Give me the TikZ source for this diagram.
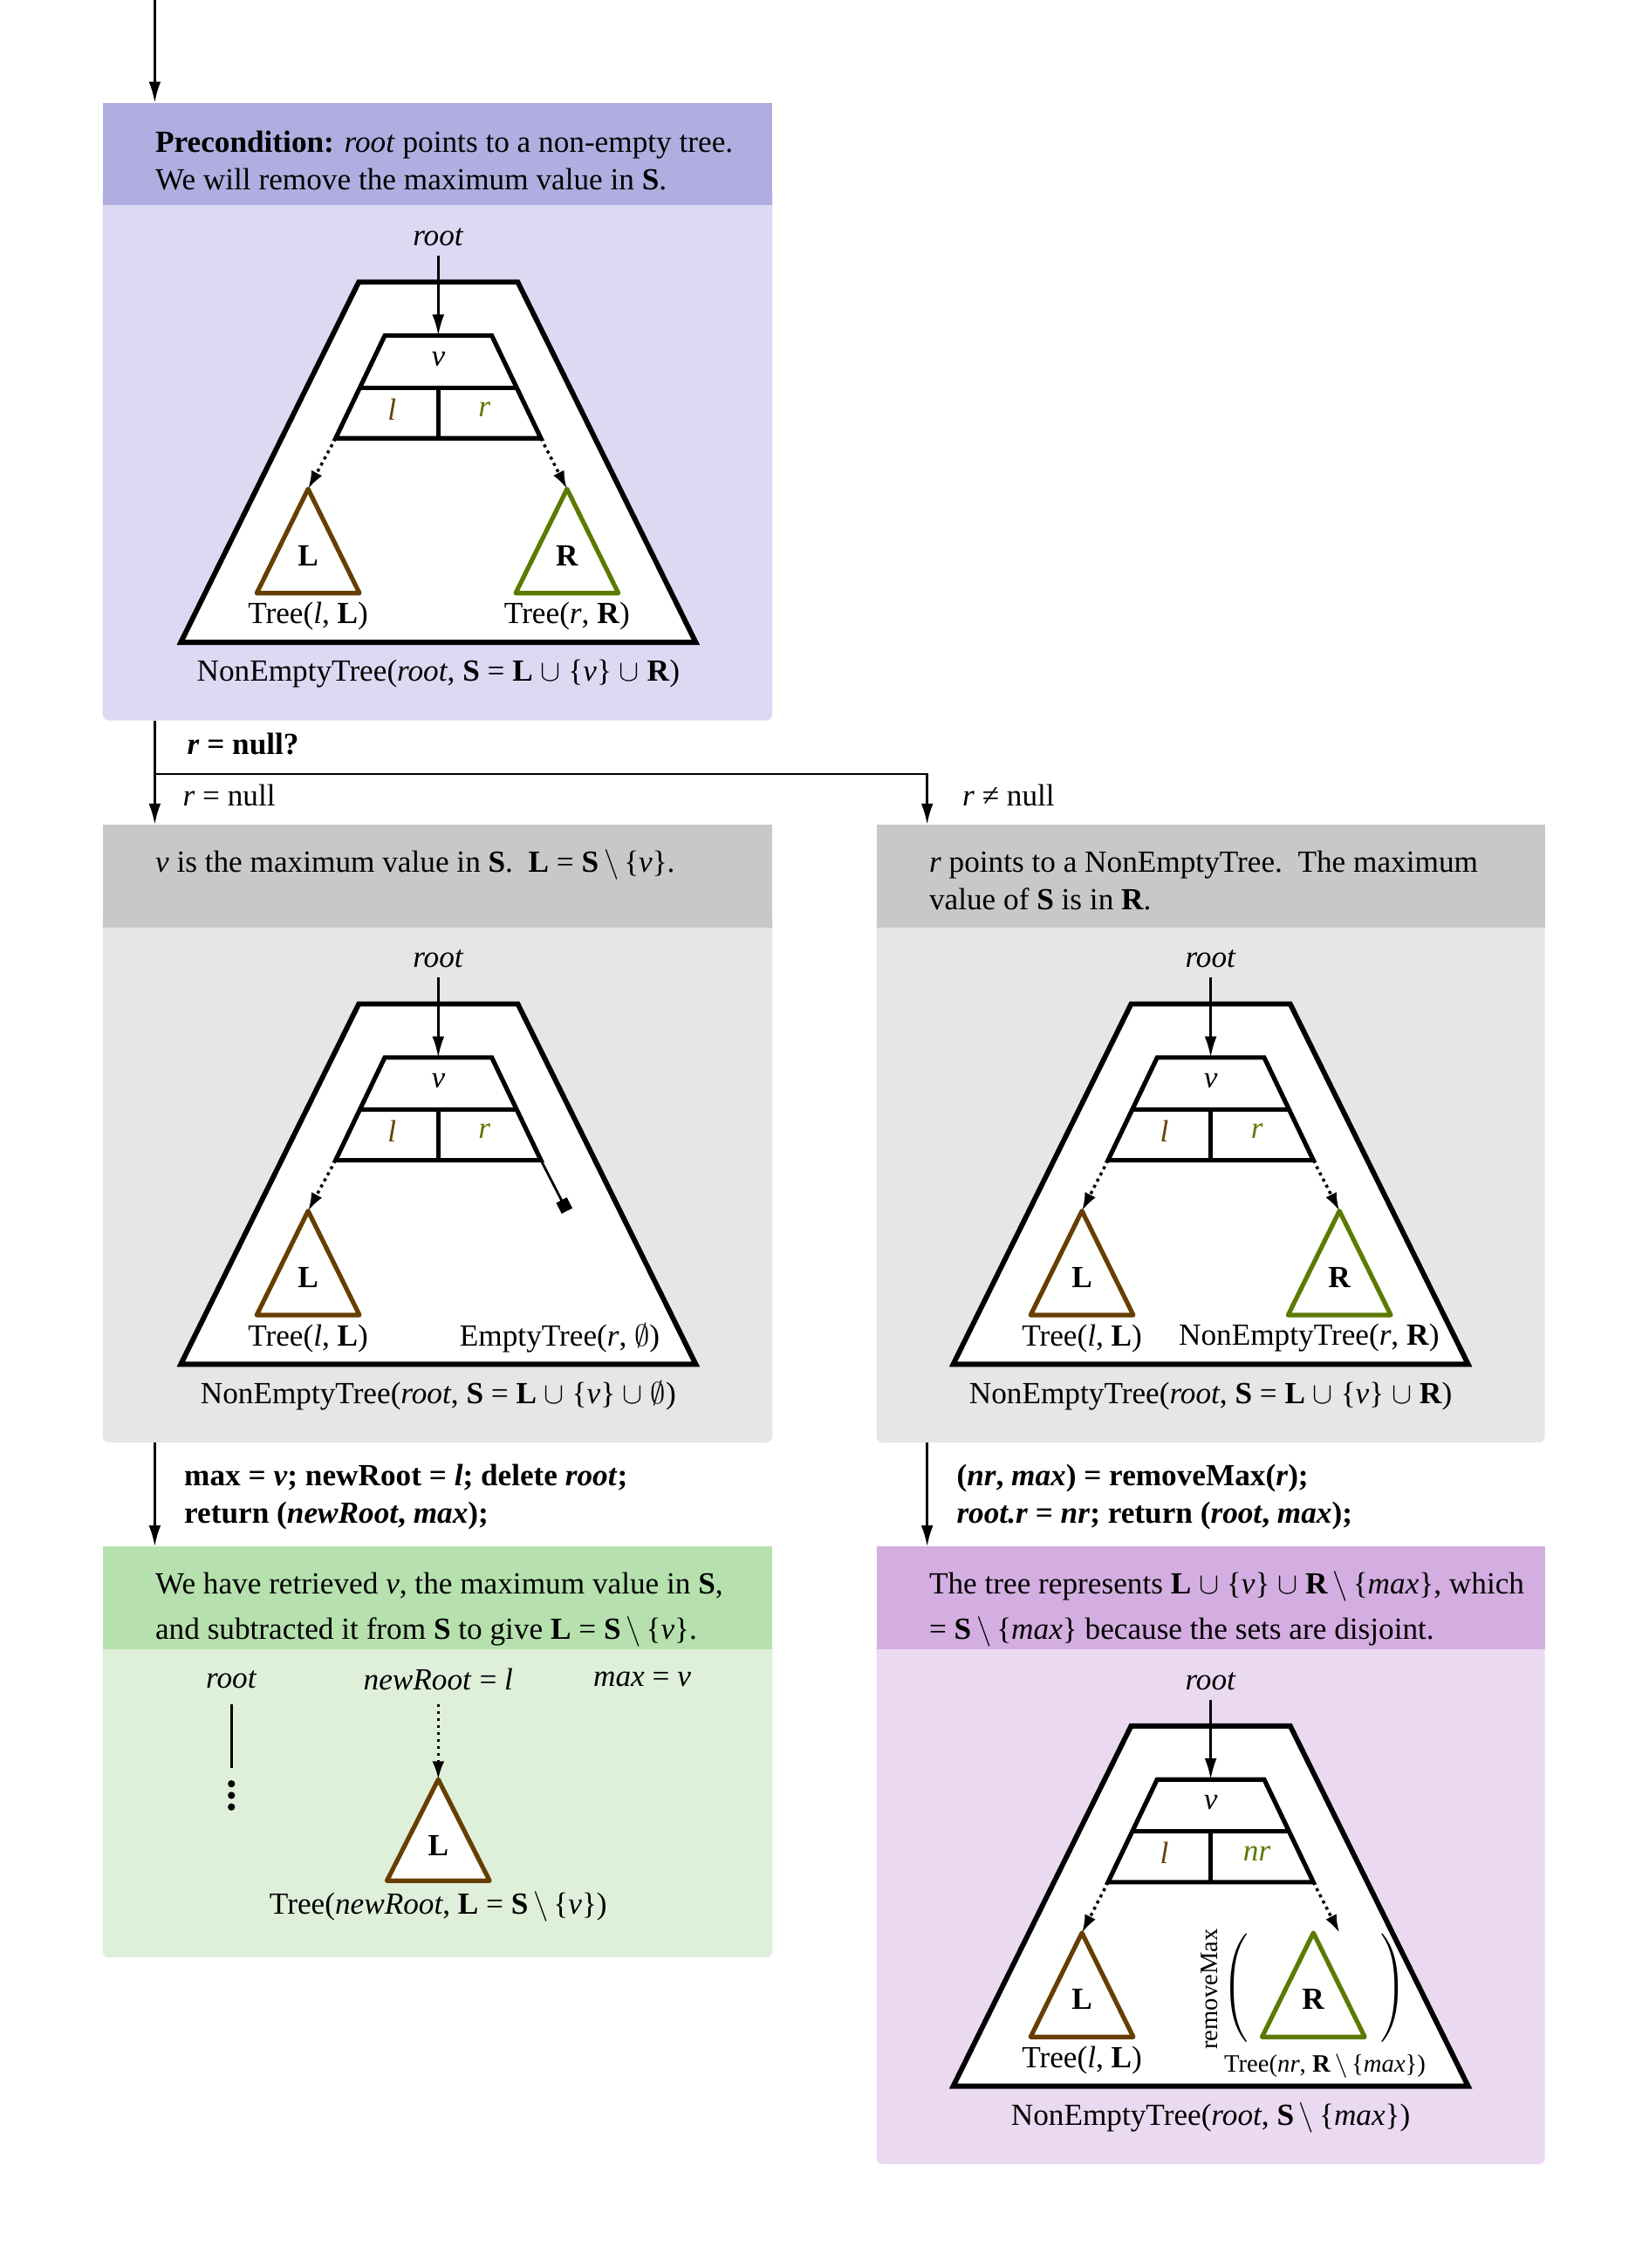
\documentclass[tikz,border=0pt]{standalone}
\usepackage{fontspec}
\setmainfont{Liberation Serif}
\usetikzlibrary{arrows.meta}
\definecolor{PreHead}{HTML}{B0AEE0}
\definecolor{PreBody}{HTML}{DCDAF3}
\definecolor{GreyHead}{HTML}{C8C8C8}
\definecolor{GreyBody}{HTML}{E6E6E6}
\definecolor{DoneHead}{HTML}{B6E1AE}
\definecolor{DoneBody}{HTML}{DFF0DA}
\definecolor{RecHead}{HTML}{D4AEE1}
\definecolor{RecBody}{HTML}{EBD9F2}
\definecolor{Brown}{HTML}{663F00}
\definecolor{Olive}{HTML}{5C7A00}

\begin{document}
\begin{tikzpicture}[
      x=0.48pt,y=-0.48pt,
      every node/.style={inner sep=0pt,font=\fontsize{10.2}{12.5}\selectfont},
      head/.style={anchor=base west,align=left},
      small/.style={font=\fontsize{8.3}{10}\selectfont},
      outer/.style={draw,line width=1.7pt,fill=white},
      cell/.style={draw,line width=1.5pt,fill=white},
      sub/.style={line width=1.5pt,fill=white,line join=round},
      flow/.style={-{Latex[length=7pt,width=4pt]},line width=0.8pt},
      ptr/.style={-{Latex[length=6pt,width=4pt]},line width=1pt,dash pattern=on 1pt off 1.3pt},
      lbl/.style={inner sep=3pt}
    ]
      \useasboundingbox (0,0) rectangle (1140,1567.7);
      % boxes
      \fill[PreBody,rounded corners=2pt] (71,130) rectangle (534,498);
      \fill[PreHead] (71,71) rectangle (534,142);
      \fill[GreyBody,rounded corners=2pt] (71,630) rectangle (534,997);
      \fill[GreyHead] (71,570) rectangle (534,641);
      \fill[GreyBody,rounded corners=2pt] (606,630) rectangle (1068,997);
      \fill[GreyHead] (606,570) rectangle (1068,641);
      \fill[DoneBody,rounded corners=2pt] (71,1130) rectangle (534,1353);
      \fill[DoneHead] (71,1069) rectangle (534,1140);
      \fill[RecBody,rounded corners=2pt] (606,1130) rectangle (1068,1496);
      \fill[RecHead] (606,1069) rectangle (1068,1140);

      \node[head] (pre-text) at (107,131) {\textbf{Precondition:} \textit{root} points to a non-empty tree.\\
        We will remove the maximum value in \textbf{S}.};
      \node[head] (nul-text) at (107,603) {\textit{v} is the maximum value in \textbf{S}.\enspace
        \textbf{L} = \textbf{S}\,$\setminus$\,\{\textit{v}\}.};
      \node[head] (nn-text) at (642,629) {\textit{r} points to a NonEmptyTree.\enspace The maximum\\
        value of \textbf{S} is in \textbf{R}.};
      \node[head] (fin-text) at (107,1133) {We have retrieved \textit{v}, the maximum value in \textbf{S},\\[2.4pt]
        and subtracted it from \textbf{S} to give \textbf{L} = \textbf{S}\,$\setminus$\,\{\textit{v}\}.};
      \node[head] (res-text) at (642,1133) {The tree represents \textbf{L} $\cup$\ \{\textit{v}\} $\cup$\
        \textbf{R}\,$\setminus$\,\{\textit{max}\}, which\\[2.4pt]
        = \textbf{S}\,$\setminus$\,\{\textit{max}\} because the sets are disjoint.};

      % flow between boxes
      \coordinate (top-in) at (107,0);
      \coordinate (pre-in) at (107,71);
      \coordinate (pre-out) at (107,498);
      \coordinate (split) at (107,535);
      \coordinate (nul-in) at (107,570);
      \coordinate (nn-in) at (641,570);
      \coordinate (nul-out) at (107,997);
      \coordinate (fin-in) at (107,1069);
      \coordinate (nn-out) at (641,997);
      \coordinate (res-in) at (641,1069);
      \draw[flow] (top-in) -- (pre-in);
      \draw[flow] (pre-out) -- (nul-in);
      \draw[flow] (split) -| (nn-in);
      \draw[flow] (nul-out) -- (fin-in);
      \draw[flow] (nn-out) -- (res-in);
      \node[anchor=west] (q-test) at (129,514) {\textbf{\textit{r} = null?}};
      \node[anchor=west] (q-yes) at (126,550) {\textit{r} = null};
      \node[anchor=west] (q-no) at (665,550) {\textit{r} ≠ null};
      \node[head] (nul-code) at (127,1053) {\textbf{max = \textit{v}; newRoot = \textit{l}; delete \textit{root};}\\
        \textbf{return (\textit{newRoot}, \textit{max});}};
      \node[head] (nn-code) at (661,1053) {\textbf{(\textit{nr}, \textit{max}) = removeMax(\textit{r});}\\
        \textbf{\textit{root.r} = \textit{nr}; return (\textit{root}, \textit{max});}};

      % precondition tree
      \begin{scope}[shift={(303,195)}]
        \draw[outer] (-55,0) -- (55,0) -- (178,249) -- (-178,249) -- cycle;
        \draw[cell] (-37,37) -- (37,37) -- (71,108) -- (-71,108) -- cycle;
        \draw[cell] (-54,73) -- (54,73) (0,73) -- (0,108);
        \draw[sub,draw=Brown] (-90,143) -- (-54.5,215) -- (-125.5,215) -- cycle;
        \draw[sub,draw=Olive] (89,143) -- (124.5,215) -- (53.5,215) -- cycle;
        \node[lbl] (pre-root) at (0,-31) {\textit{root}};
        \coordinate (pre-top) at (0,37);
        \coordinate (pre-lc) at (-71,108);
        \coordinate (pre-rc) at (71,108);
        \coordinate (pre-la) at (-90,143);
        \coordinate (pre-ra) at (89,143);
        \node (pre-v) at (0,53) {\textit{v}};
        \node[text=Brown] (pre-l) at (-32,88) {\textit{l}};
        \node[text=Olive] (pre-r) at (32,88) {\textit{r}};
        \node (pre-L) at (-90,189) {\textbf{L}};
        \node (pre-R) at (89,189) {\textbf{R}};
        \node (pre-lt) at (-90,231) {Tree(\textit{l}, \textbf{L})};
        \node (pre-rt) at (89,231) {Tree(\textit{r}, \textbf{R})};
        \node (pre-tree) at (0,271) {NonEmptyTree(\textit{root}, \textbf{S} = \textbf{L} $\cup$\ \{\textit{v}\} $\cup$\ \textbf{R})};
      \end{scope}
      \draw[flow] (pre-root) -- (pre-top);
      \draw[ptr] (pre-lc) -- (pre-la);
      \draw[ptr] (pre-rc) -- (pre-ra);

      % r = null tree
      \begin{scope}[shift={(303,694)}]
        \draw[outer] (-55,0) -- (55,0) -- (178,249) -- (-178,249) -- cycle;
        \draw[cell] (-37,37) -- (37,37) -- (71,108) -- (-71,108) -- cycle;
        \draw[cell] (-54,73) -- (54,73) (0,73) -- (0,108);
        \draw[sub,draw=Brown] (-90,143) -- (-54.5,215) -- (-125.5,215) -- cycle;
        \node[lbl] (nul-root) at (0,-31) {\textit{root}};
        \coordinate (nul-top) at (0,37);
        \coordinate (nul-lc) at (-71,108);
        \coordinate (nul-rc) at (71,108);
        \coordinate (nul-la) at (-90,143);
        \coordinate (nul-nil) at (89,143);
        \node (nul-v) at (0,53) {\textit{v}};
        \node[text=Brown] (nul-l) at (-32,88) {\textit{l}};
        \node[text=Olive] (nul-r) at (32,88) {\textit{r}};
        \node (nul-L) at (-90,189) {\textbf{L}};
        \node (nul-lt) at (-90,231) {Tree(\textit{l}, \textbf{L})};
        \node (nul-rt) at (84,231) {EmptyTree(\textit{r}, $\emptyset$)};
        \node (nul-tree) at (0,271) {NonEmptyTree(\textit{root}, \textbf{S} = \textbf{L} $\cup$\ \{\textit{v}\} $\cup$\ $\emptyset$)};
      \end{scope}
      \draw[flow] (nul-root) -- (nul-top);
      \draw[ptr] (nul-lc) -- (nul-la);
      \draw[-{Square[length=4pt,width=4pt]},line width=0.8pt] (nul-rc) -- (nul-nil);

      % r != null tree
      \begin{scope}[shift={(837,694)}]
        \draw[outer] (-55,0) -- (55,0) -- (178,249) -- (-178,249) -- cycle;
        \draw[cell] (-37,37) -- (37,37) -- (71,108) -- (-71,108) -- cycle;
        \draw[cell] (-54,73) -- (54,73) (0,73) -- (0,108);
        \draw[sub,draw=Brown] (-89,143) -- (-53.5,215) -- (-124.5,215) -- cycle;
        \draw[sub,draw=Olive] (89,143) -- (124.5,215) -- (53.5,215) -- cycle;
        \node[lbl] (nn-root) at (0,-31) {\textit{root}};
        \coordinate (nn-top) at (0,37);
        \coordinate (nn-lc) at (-71,108);
        \coordinate (nn-rc) at (71,108);
        \coordinate (nn-la) at (-89,143);
        \coordinate (nn-ra) at (89,143);
        \node (nn-v) at (0,53) {\textit{v}};
        \node[text=Brown] (nn-l) at (-32,88) {\textit{l}};
        \node[text=Olive] (nn-r) at (32,88) {\textit{r}};
        \node (nn-L) at (-89,189) {\textbf{L}};
        \node (nn-R) at (89,189) {\textbf{R}};
        \node (nn-lt) at (-89,231) {Tree(\textit{l}, \textbf{L})};
        \node (nn-rt) at (68,231) {NonEmptyTree(\textit{r}, \textbf{R})};
        \node (nn-tree) at (0,271) {NonEmptyTree(\textit{root}, \textbf{S} = \textbf{L} $\cup$\ \{\textit{v}\} $\cup$\ \textbf{R})};
      \end{scope}
      \draw[flow] (nn-root) -- (nn-top);
      \draw[ptr] (nn-lc) -- (nn-la);
      \draw[ptr] (nn-rc) -- (nn-ra);

      % result of the null case
      \node (fin-root) at (160,1161) {\textit{root}};
      \node (fin-new) at (303,1161) {\textit{newRoot} = \textit{l}};
      \node (fin-max) at (444,1161) {\textit{max} = \textit{v}};
      \coordinate (fin-stub) at (160,1222);
      \coordinate (fin-la) at (303,1230);
      \draw[line width=0.8pt] (fin-root) ++(0,17) -- (fin-stub);
      \foreach \d in {1233,1241,1249}
        \fill (160,\d) circle[radius=1.2pt];
      \draw[sub,draw=Brown] (303,1230) -- (338.5,1300) -- (267.5,1300) -- cycle;
      \draw[ptr] (fin-new) ++(0,17) -- (fin-la);
      \node (fin-L) at (303,1276) {\textbf{L}};
      \node (fin-tree) at (303,1318) {Tree(\textit{newRoot}, \textbf{L} = \textbf{S}\,$\setminus$\,\{\textit{v}\})};

      % result of the recursive case
      \begin{scope}[shift={(837,1193)}]
        \draw[outer] (-55,0) -- (55,0) -- (178,249) -- (-178,249) -- cycle;
        \draw[cell] (-37,37) -- (37,37) -- (71,108) -- (-71,108) -- cycle;
        \draw[cell] (-54,73) -- (54,73) (0,73) -- (0,108);
        \draw[sub,draw=Brown] (-89,143) -- (-53.5,215) -- (-124.5,215) -- cycle;
        \draw[sub,draw=Olive] (71,143) -- (106.5,215) -- (35.5,215) -- cycle;
        \node[lbl] (res-root) at (0,-31) {\textit{root}};
        \coordinate (res-top) at (0,37);
        \coordinate (res-lc) at (-71,108);
        \coordinate (res-rc) at (71,108);
        \coordinate (res-la) at (-89,143);
        \coordinate (res-ra) at (89,143);
        \node (res-v) at (0,53) {\textit{v}};
        \node[text=Brown] (res-l) at (-32,88) {\textit{l}};
        \node[text=Olive] (res-r) at (32,88) {\textit{nr}};
        \node (res-L) at (-89,189) {\textbf{L}};
        \node (res-R) at (71,189) {\textbf{R}};
        \node[rotate=90,small] (res-fn) at (-1,182) {removeMax};
        \node (res-par) at (72,181) {$\left(\vcenter{\hbox{\rule{0pt}{36pt}}}\hspace{44pt}\right)$};
        \node (res-lt) at (-89,231) {Tree(\textit{l}, \textbf{L})};
        \node[small] (res-rt) at (79,235) {Tree(\textit{nr}, \textbf{R}\,$\setminus$\,\{\textit{max}\})};
        \node (res-tree) at (0,271) {NonEmptyTree(\textit{root}, \textbf{S}\,$\setminus$\,\{\textit{max}\})};
      \end{scope}
      \draw[flow] (res-root) -- (res-top);
      \draw[ptr] (res-lc) -- (res-la);
      \draw[ptr] (res-rc) -- (res-ra);
    \end{tikzpicture}
\end{document}
